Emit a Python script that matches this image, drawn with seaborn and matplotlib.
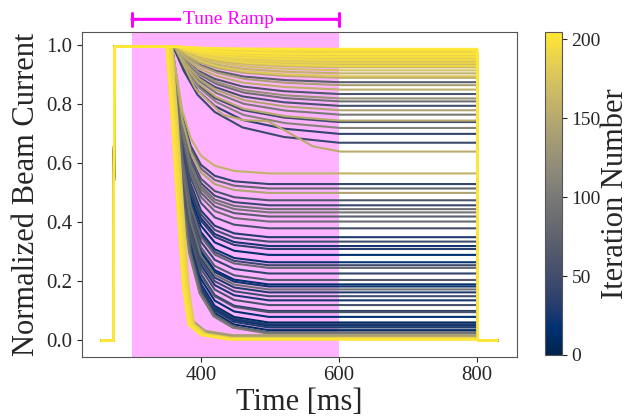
import numpy as np
import pandas as pd
import matplotlib
matplotlib.use("Agg")
import matplotlib.pyplot as plt
import seaborn as sns

# Beam current traces, one per tuning iteration
iteration = [205, 200, 196, 192, 188, 203, 184, 198, 180, 194, 176, 186, 170, 190, 165, 172, 160, 178,
             150, 70, 140, 155, 60, 125, 90, 55, 145, 100, 150, 50, 110, 40, 45, 152,
             158, 42, 80, 145, 60, 45, 90, 95, 70, 85, 55, 30, 50, 25, 35, 15, 20, 45, 80, 40,
             65, 15, 22, 90, 30, 50, 25, 55, 35, 60, 18, 10, 28, 20, 30, 12, 75, 100,
             140, 120, 130, 165, 175, 185, 195, 200, 190, 204, 182]
final_level = [0.988, 0.985, 0.982, 0.978, 0.975, 0.970, 0.965, 0.960, 0.955, 0.950, 0.945, 0.940,
               0.935, 0.930, 0.925, 0.915, 0.905, 0.895,
               0.890, 0.875, 0.865, 0.850, 0.835, 0.820, 0.810, 0.795, 0.780, 0.765, 0.745, 0.740,
               0.720, 0.700, 0.670, 0.640,
               0.566, 0.530, 0.515, 0.500, 0.475, 0.458, 0.445, 0.434, 0.420, 0.403, 0.380, 0.350,
               0.335, 0.320, 0.310, 0.290, 0.265, 0.255, 0.246, 0.227, 0.205, 0.190, 0.183, 0.173,
               0.163, 0.150, 0.136, 0.120, 0.100, 0.096, 0.080, 0.061, 0.055, 0.050, 0.044, 0.035,
               0.028, 0.024,
               0.018, 0.015, 0.012, 0.010, 0.008, 0.007, 0.006, 0.005, 0.004, 0.003, 0.006]
drop_ms = [370, 372, 368, 370, 366, 370, 368, 365, 370, 366, 368, 364, 366, 368, 364, 366, 364, 366,
           362, 362, 364, 362, 360, 362, 362, 360, 362, 362, 362, 360, 362, 360, 360, 362,
           358, 358, 358, 358, 358, 358, 358, 358, 358, 358, 358, 358, 358, 358, 358, 358, 358, 358,
           358, 358, 358, 358, 358, 358, 358, 358, 358, 358, 358, 358, 358, 358, 358, 358, 358, 358,
           358, 356,
           356, 354, 352, 354, 352, 350, 354, 352, 356, 350, 358]
profile = ["slow"] * 33 + ["two_step"] + ["mid"] * 38 + ["fast"] * 11

# shape of the drop: remaining fraction of (plateau - final) vs. ms after drop start
fast_offsets = [0, 8, 16, 24, 32, 50, 90]
fast_fraction = [1.0, 0.75, 0.45, 0.18, 0.05, 0.015, 0.0]
mid_offsets = [0, 6, 15, 27, 42, 62, 90, 140]
mid_fraction = [1.0, 0.8, 0.5, 0.28, 0.14, 0.06, 0.02, 0.0]
slow_offsets = [0, 15, 35, 60, 100, 160, 240]
slow_fraction = [1.0, 0.75, 0.5, 0.32, 0.16, 0.06, 0.0]
two_step_offsets = [0, 30, 70, 100, 135, 160, 200, 240]
two_step_fraction = [1.0, 0.6, 0.35, 0.3, 0.29, 0.2, 0.05, 0.0]

plateau = 0.995
beam_on_ms = [256, 273.5, 274.5]
beam_off_ms = [800, 801, 829]

profiles = {
    "fast": (fast_offsets, fast_fraction),
    "mid": (mid_offsets, mid_fraction),
    "slow": (slow_offsets, slow_fraction),
    "two_step": (two_step_offsets, two_step_fraction),
}

rows = []
for k, (it, lev, t0, prof) in enumerate(zip(iteration, final_level, drop_ms, profile)):
    offs, frac = profiles[prof]
    t = beam_on_ms + [t0 + o for o in offs] + beam_off_ms
    v = [0.0, 0.0, plateau] + [lev + (plateau - lev) * f for f in frac] + [lev, 0.0, 0.0]
    for ti, vi in zip(t, v):
        rows.append({"line": k, "iteration": it, "time": ti, "current": vi})
df = pd.DataFrame(rows)

sns.set_style("ticks")
plt.rcParams["font.family"] = ["Liberation Serif", "DejaVu Serif"]

fig = plt.figure(figsize=(6.32, 4.16), dpi=100)
ax = fig.add_axes([0.130, 0.1425, 0.6885, 0.7805])
cax = fig.add_axes([0.862, 0.147, 0.027, 0.777])

vmax = 205
ax.axvspan(300, 600, color="magenta", alpha=0.3, lw=0, zorder=0)
sns.lineplot(data=df, x="time", y="current", hue="iteration", units="line", estimator=None,
             palette="cividis", hue_norm=(0, vmax), legend=False, sort=False, lw=1.5, ax=ax)

ax.set_xlim(228, 858)
ax.set_ylim(-0.055, 1.045)
ax.set_xticks([400, 600, 800])
ax.set_yticks([0.0, 0.2, 0.4, 0.6, 0.8, 1.0])
ax.set_yticklabels(["0.0", "0.2", "0.4", "0.6", "0.8", "1.0"])
ax.tick_params(labelsize=15)
ax.set_xlabel("Time [ms]", fontsize=22, labelpad=2)
ax.set_ylabel("Normalized Beam Current", fontsize=22, labelpad=4)
for s in ax.spines.values():
    s.set_color("#555555")

# tune ramp marker above the axes
ax.annotate("", xy=(300, 1.088), xytext=(600, 1.088), xycoords="data",
            arrowprops=dict(arrowstyle="|-|,widthA=0.45,widthB=0.45", color="magenta", lw=2.2,
                            shrinkA=0, shrinkB=0),
            annotation_clip=False)
ax.text(440, 1.088, "Tune Ramp", color="magenta", fontsize=14, ha="center", va="center",
        bbox=dict(facecolor="white", edgecolor="none", pad=1.5), clip_on=False)

sm = plt.cm.ScalarMappable(cmap="cividis", norm=plt.Normalize(0, vmax))
cb = fig.colorbar(sm, cax=cax, ticks=[0, 50, 100, 150, 200])
cb.ax.tick_params(labelsize=14)
cb.outline.set_edgecolor("#555555")
cb.set_label("Iteration Number", fontsize=22, labelpad=0)

fig.savefig("out.png", dpi=100)
